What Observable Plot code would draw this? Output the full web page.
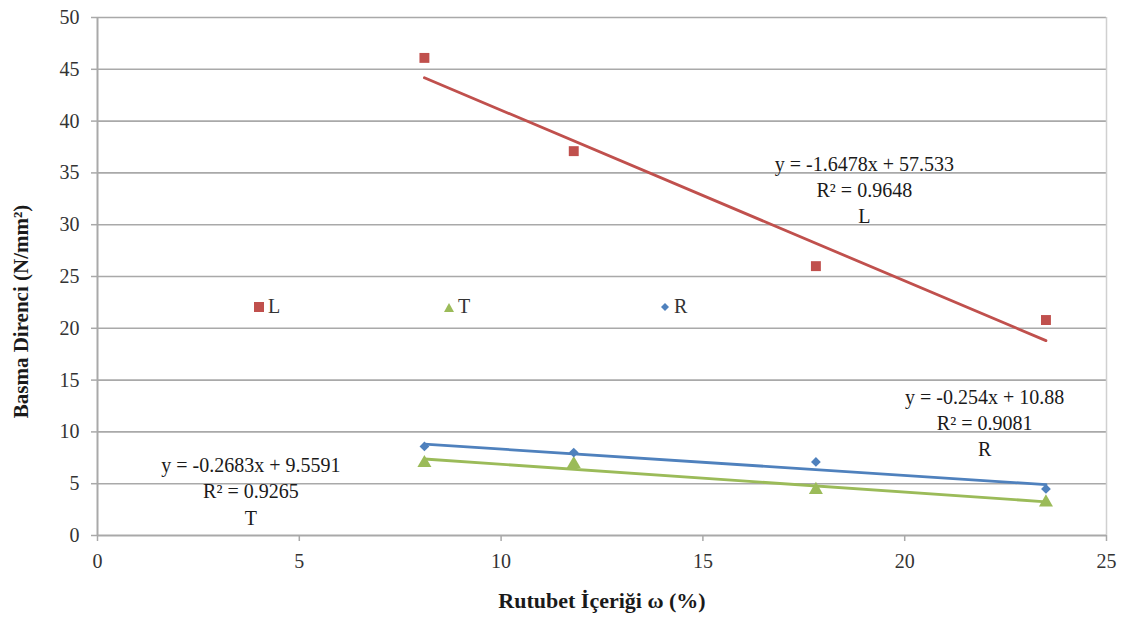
<!DOCTYPE html>
<html>
<head>
<meta charset="utf-8">
<script src="https://cdn.jsdelivr.net/npm/d3@7"></script>
<script src="https://cdn.jsdelivr.net/npm/@observablehq/plot@0.6"></script>
<style>
  html, body { margin: 0; padding: 0; background: #fff; }
  #wrap { position: relative; width: 1135px; height: 625px; }
  #chart svg, #chart svg text { font-family: "Liberation Serif", "Tinos", "Times New Roman", "DejaVu Serif", serif !important; }
  #legend { position: absolute; top: 295px; left: 0; width: 1135px; height: 24px;
            font-family: "Liberation Serif", "Tinos", "Times New Roman", "DejaVu Serif", serif; font-size: 20px; color: #333; }
  .item { position: absolute; display: flex; align-items: center; gap: 3px; }
</style>
</head>
<body>
<div id="wrap">
  <div id="chart"></div>
  <div id="legend"></div>
</div>
<script>
// ---- data ----
const moisture = [8.1, 11.8, 17.8, 23.5];
const valuesL = [46.1, 37.1, 26.0, 20.8];
const valuesT = [7.0, 6.9, 4.4, 3.2];
const valuesR = [8.6, 8.0, 7.1, 4.5];

const seriesNames = ["L", "T", "R"];
const seriesColors = {L: "#C0504D", T: "#9BBB59", R: "#4F81BD"};
const seriesSymbols = {L: "square", T: "triangle", R: "diamond2"};
const symbolSizes = {L: 5.6, T: 5.2, R: 4.4};

// trend line coefficients (slope, intercept) and R²
const slopes = {L: -1.6478, T: -0.2683, R: -0.254};
const intercepts = {L: 57.533, T: 9.5591, R: 10.88};
const r2 = {L: "0.9648", T: "0.9265", R: "0.9081"};

const xTicks = [0, 5, 10, 15, 20, 25];
const yTicks = [0, 5, 10, 15, 20, 25, 30, 35, 40, 45, 50];

const xLabel = "Rutubet İçeriği ω (%)";
const yLabel = "Basma Direnci (N/mm²)";

// annotation anchor positions (data units) for equation labels
const annotX = {L: 19.0, T: 3.8, R: 21.98};
const annotY = {L: 33.5, T: 4.4, R: 11.0};

// ---- build tables ----
const valuesBy = {L: valuesL, T: valuesT, R: valuesR};
const points = seriesNames.flatMap(s => moisture.map((x, i) => ({series: s, x, y: valuesBy[s][i]})));
const xMin = d3.min(moisture), xMax = d3.max(moisture);
const trends = seriesNames.flatMap(s => [xMin, xMax].map(x => ({series: s, x, y: slopes[s] * x + intercepts[s]})));
const annots = seriesNames.map(s => ({
  x: annotX[s], y: annotY[s],
  t: `y = ${slopes[s]}x + ${intercepts[s]}\nR² = ${r2[s]}\n${s}`
}));

const font = "Liberation Serif, Tinos, Times New Roman, DejaVu Serif, serif";

const chart = Plot.plot({
  width: 1135,
  height: 625,
  marginLeft: 97,
  marginRight: 29,
  marginTop: 17,
  marginBottom: 90,
  style: {fontFamily: font, fontSize: "20px", color: "#333", background: "#fff"},
  x: {domain: [0, 25]},
  y: {domain: [0, 50]},
  r: {type: "identity"},
  symbol: {type: "identity"},
  color: {type: "identity"},
  marks: [
    Plot.ruleY(yTicks.filter(d => d > 0), {stroke: "#a9a9a9", strokeWidth: 1.6}),
    Plot.ruleX([25], {stroke: "#d0d0d0", strokeWidth: 1.5}),
    Plot.ruleY([0], {stroke: "#a9a9a9", strokeWidth: 2}),
    Plot.ruleX([0], {stroke: "#a9a9a9", strokeWidth: 2}),
    Plot.axisX({ticks: xTicks, tickSize: 6, stroke: "#a9a9a9", strokeWidth: 1.5, tickPadding: 12, fill: "#333", label: null, fontSize: 20}),
    Plot.axisY({ticks: yTicks, tickSize: 6, stroke: "#a9a9a9", strokeWidth: 1.5, tickPadding: 12, fill: "#333", label: null, fontSize: 20}),
    Plot.line(trends, {x: "x", y: "y", z: "series", stroke: d => seriesColors[d.series], strokeWidth: 2.8}),
    Plot.dot(points, {x: "x", y: "y", symbol: d => seriesSymbols[d.series], fill: d => seriesColors[d.series], stroke: "none", r: d => symbolSizes[d.series]}),
    Plot.text(annots, {x: "x", y: "y", text: "t", lineHeight: 1.32, lineAnchor: "middle", fill: "#1a1a1a", fontSize: 20, textAnchor: "middle"}),
    Plot.text([xLabel], {frameAnchor: "bottom", dy: 72, fontWeight: "bold", fontSize: 22, fill: "#1a1a1a"}),
    Plot.text([yLabel], {frameAnchor: "left", textAnchor: "middle", rotate: -90, dx: -76, dy: 35, fontWeight: "bold", fontSize: 21, fill: "#1a1a1a"})
  ]
});
document.getElementById("chart").appendChild(chart);

// ---- in-plot legend (HTML overlay) ----
const legendLeft = {L: 253, T: 443, R: 659};
const legendShapes = {
  L: c => `<svg width="12" height="12"><rect x="1" y="1" width="10" height="10" fill="${c}"/></svg>`,
  T: c => `<svg width="12" height="12"><path d="M6,2 L11,11 L1,11 Z" fill="${c}"/></svg>`,
  R: c => `<svg width="12" height="12"><path d="M6,2 L10,6 L6,10 L2,6 Z" fill="${c}"/></svg>`
};
const leg = document.getElementById("legend");
for (const s of seriesNames) {
  const el = document.createElement("div");
  el.className = "item";
  el.style.left = legendLeft[s] + "px";
  el.innerHTML = legendShapes[s](seriesColors[s]) + `<span>${s}</span>`;
  leg.appendChild(el);
}
</script>
</body>
</html>
